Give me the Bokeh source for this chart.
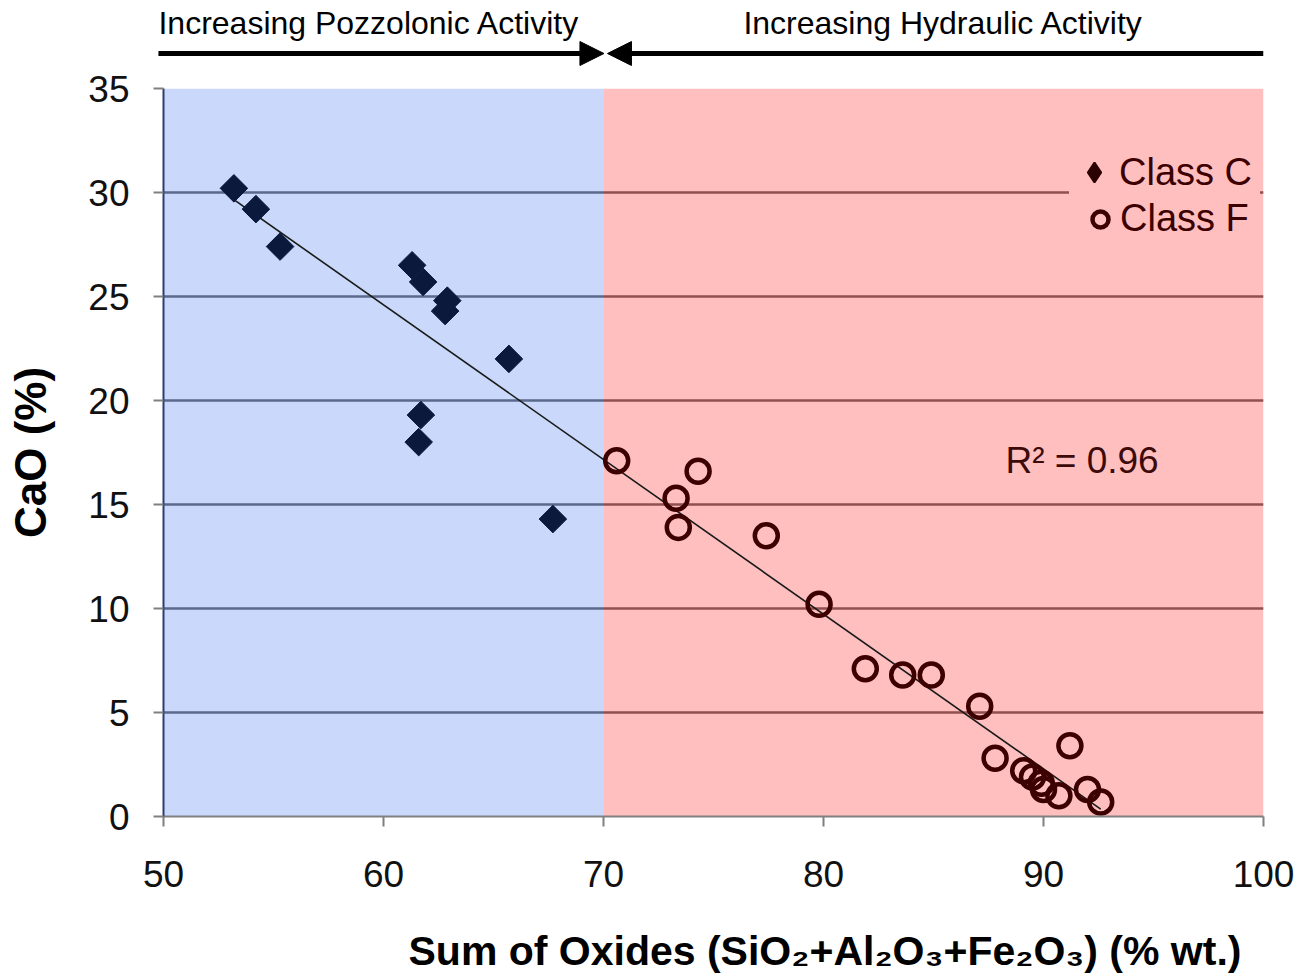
import numpy as np
from bokeh.plotting import figure
from bokeh.layouts import column
from bokeh.models import (BoxAnnotation, Label, Arrow, NormalHead, Legend,
                          LegendItem, FixedTicker, Range1d, Title, ColumnDataSource)
from bokeh.embed import file_html
from bokeh.resources import INLINE

# ---------------- data ----------------
class_c_x = [53.2, 54.2, 55.3, 61.3, 61.8, 62.9, 62.8, 65.7, 61.7, 61.6, 67.7]
class_c_y = [30.2, 29.2, 27.4, 26.5, 25.7, 24.8, 24.3, 22.0, 19.3, 18.0, 14.3]

class_f_x = [70.6, 74.3, 73.3, 73.4, 77.4, 79.8, 81.9, 83.6, 84.9, 87.1,
             87.8, 89.1, 89.5, 89.9, 90.0, 90.7, 91.2, 92.0, 92.6]
class_f_y = [17.1, 16.6, 15.3, 13.9, 13.5, 10.2, 7.1, 6.8, 6.8, 5.3,
             2.8, 2.2, 1.9, 1.6, 1.3, 1.0, 3.4, 1.3, 0.7]

region_left = [50, 70]
region_right = [70, 100]
x_ticks = [50, 60, 70, 80, 90, 100]
y_ticks = [0, 5, 10, 15, 20, 25, 30, 35]
r2_text = "R\u00b2 = 0.96"
left_note = "Increasing Pozzolonic Activity"
right_note = "Increasing Hydraulic Activity"
x_title = "Sum of Oxides (SiO\u2082+Al\u2082O\u2083+Fe\u2082O\u2083) (% wt.)"
y_title = "CaO (%)"

FONT = "Liberation Sans"

# ---------------- top strip with the activity notes ----------------
# same scale as the main x axis (22 px per unit) but a frame that starts 13 px further left
top = figure(width=1308, height=66, output_backend="svg", toolbar_location=None,
             x_range=Range1d(50 - 13 / 22, 100), y_range=Range1d(0, 66),
             x_axis_location=None, y_axis_location=None,
             min_border_left=150, min_border_right=45, min_border_top=0,
             min_border_bottom=0, outline_line_color=None,
             background_fill_color="white", border_fill_color="white")
top.frame_align = False
top.grid.visible = False
top.add_layout(Label(x=49.77, y=44, text=left_note, text_baseline="middle",
                     text_font=FONT, text_font_size="32px", text_color="#000000"))
top.add_layout(Label(x=76.36, y=44, text=right_note, text_baseline="middle",
                     text_font=FONT, text_font_size="32px", text_color="#000000"))
top.add_layout(Arrow(x_start=49.77, y_start=13, x_end=70.02, y_end=13,
                     line_width=5, line_color="black",
                     end=NormalHead(size=24, fill_color="black", line_color="black")))
top.add_layout(Arrow(x_start=100, y_start=13, x_end=70.18, y_end=13,
                     line_width=5, line_color="black",
                     end=NormalHead(size=24, fill_color="black", line_color="black")))

# ---------------- main chart ----------------
p = figure(width=1308, height=912, output_backend="svg", toolbar_location=None,
           x_range=Range1d(50, 100), y_range=Range1d(0, 35),
           min_border_left=163, min_border_right=45, min_border_top=22,
           min_border_bottom=162, outline_line_color=None,
           background_fill_color="white", border_fill_color="white")
p.frame_align = False

# grid (drawn beneath semi-transparent coloured regions)
p.xgrid.visible = False
p.ygrid.ticker = FixedTicker(ticks=y_ticks)
p.ygrid.grid_line_color = "#505050"
p.ygrid.grid_line_width = 2.5
p.ygrid.level = "image"

# coloured regions
p.add_layout(BoxAnnotation(left=region_left[0], right=region_right[0],
                           fill_color=(109, 150, 244), fill_alpha=0.37,
                           line_color=None, level="underlay"))
p.add_layout(BoxAnnotation(left=region_left[1], right=region_right[1],
                           fill_color=(255, 82, 82), fill_alpha=0.37,
                           line_color=None, level="underlay"))

# axes
p.xaxis.ticker = FixedTicker(ticks=x_ticks)
p.yaxis.ticker = FixedTicker(ticks=y_ticks)
for ax in (p.xaxis, p.yaxis):
    ax.minor_tick_line_color = None
    ax.major_tick_in = 0
    ax.major_tick_out = 10
    ax.major_tick_line_color = "#808080"
    ax.major_tick_line_width = 2
    ax.axis_line_width = 2
    ax.major_label_text_font = FONT
    ax.major_label_text_font_size = "37px"
    ax.major_label_text_color = "#111111"
p.xaxis.axis_line_color = "#808080"
p.yaxis.axis_line_color = "#2E3D6E"
p.yaxis.major_label_standoff = 24
p.xaxis.major_label_standoff = 34
p.yaxis.axis_label = y_title
p.yaxis.axis_label_text_font = FONT
p.yaxis.axis_label_text_font_style = "bold"
p.yaxis.axis_label_text_font_size = "44px"
p.yaxis.axis_label_text_color = "#000000"
p.yaxis.axis_label_standoff = 30

# x title, offset to the right as in the original (spacer title above it)
p.add_layout(Title(text=" ", text_font_size="20px", standoff=8), "below")
p.add_layout(Title(text=x_title, align="left", offset=245, standoff=8,
                   text_font=FONT, text_font_size="41px", text_font_style="bold",
                   text_color="#000000"), "below")

# trendline from all data
all_x = np.array(class_c_x + class_f_x)
all_y = np.array(class_c_y + class_f_y)
slope, intercept = np.polyfit(all_x, all_y, 1)
tx = np.array([all_x.min(), all_x.max()])
p.line(tx, slope * tx + intercept, line_color="#1A1A1A", line_width=1.6)

# points
src_c = ColumnDataSource(dict(x=class_c_x, y=class_c_y))
# diamond-shaped copy of Class C (hidden under the rotated squares) for the legend
r_c_leg = p.scatter("x", "y", source=src_c, marker="diamond", size=14,
                    fill_color="#2A0000", line_color="#2A0000", line_width=2)
r_c = p.scatter("x", "y", source=src_c, marker="square", angle=np.pi / 4, size=19.5,
                fill_color="#0B1A3C", line_color="#0B1A3C", line_width=1)
r_f = p.scatter(class_f_x, class_f_y, marker="circle", size=23,
                fill_color=None, line_color="#3C0000", line_width=4.5)

leg_common = dict(background_fill_color="#FFBFBF", background_fill_alpha=1.0,
                  border_line_color=None, label_text_font=FONT,
                  label_text_font_size="38px", label_text_color="#3C0000",
                  spacing=0, margin=0, label_standoff=0)
legend_f = Legend(items=[LegendItem(label="Class F", renderers=[r_f])],
                  location=(917, 576), glyph_width=40, glyph_height=40,
                  padding=0, label_width=130, **leg_common)
legend_c = Legend(items=[LegendItem(label="Class C", renderers=[r_c_leg])],
                  location=(906, 619), glyph_width=50, glyph_height=50,
                  padding=3, label_width=141, **leg_common)
p.add_layout(legend_f)
p.add_layout(legend_c)

# R squared
p.add_layout(Label(x=88.27, y=17.13, text=r2_text, text_baseline="middle",
                   text_font=FONT, text_font_size="37px", text_color="#3D0A0A"))

layout = column(top, p, spacing=0)
open("out.html", "w").write(file_html(layout, INLINE))
